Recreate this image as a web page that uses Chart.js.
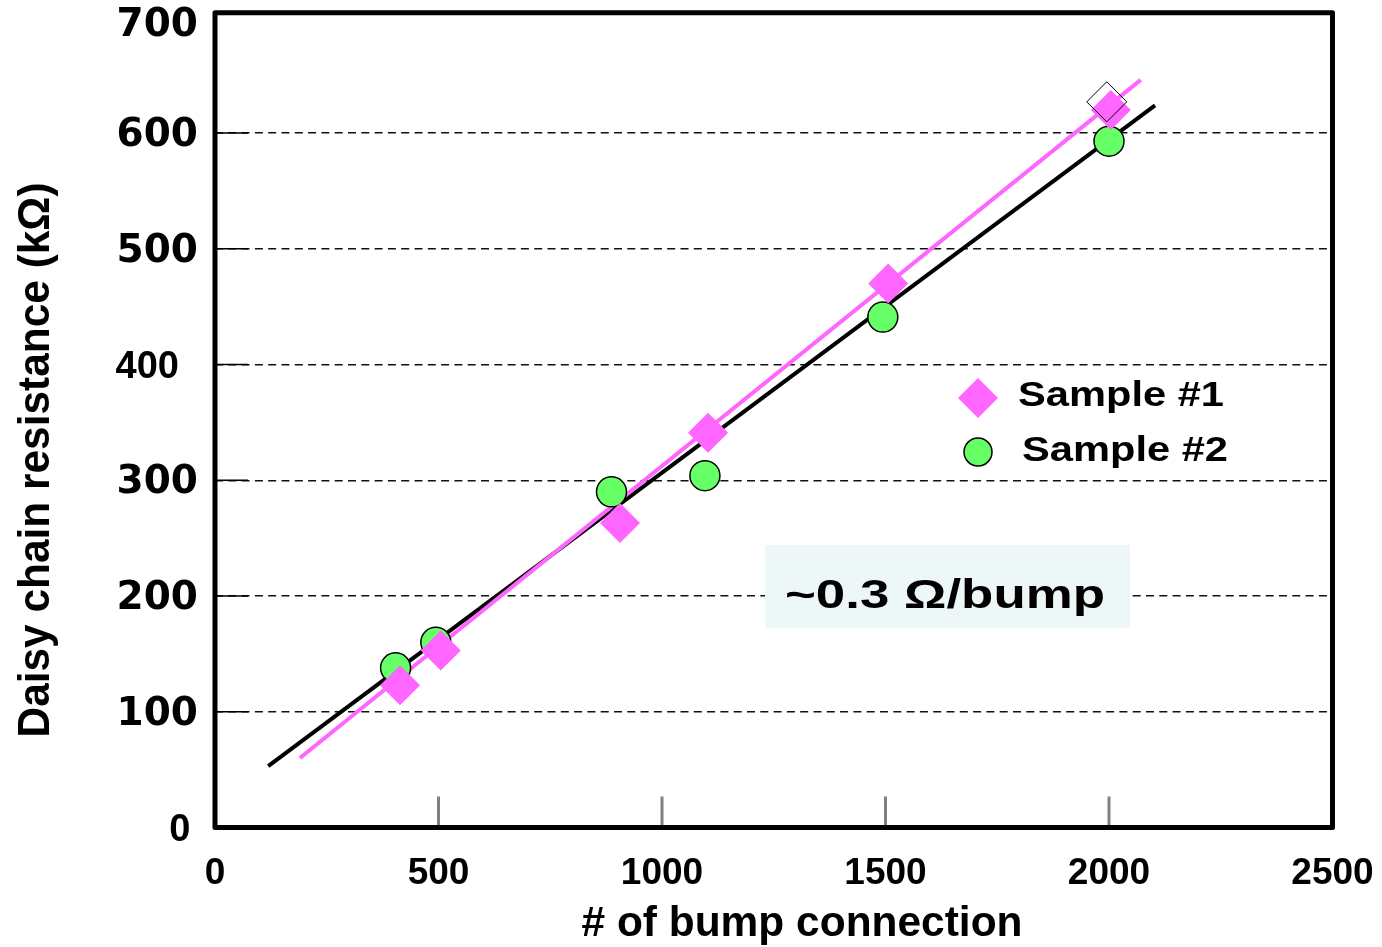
<!DOCTYPE html>
<html>
<head>
<meta charset="utf-8">
<script src="https://cdn.jsdelivr.net/npm/chart.js@4/dist/chart.umd.min.js"></script>
<style>
  html, body { margin: 0; padding: 0; background: #fff; }
  canvas { display: block; }
</style>
</head>
<body>
<canvas id="c" width="1382" height="947"></canvas>
<script>
// Axis ticks
const xTicks = [0, 500, 1000, 1500, 2000, 2500];
const yTicks = [0, 100, 200, 300, 400, 500, 600, 700];

// Measured daisy-chain resistance (kΩ) vs number of bump connections
const bumps1 = [414, 505, 906, 1103, 1506, 2004];
const res1   = [123, 153, 263, 341, 470, 620];
const bumps2 = [404, 494, 887, 1096, 1494, 2000];
const res2   = [138, 160, 290, 304, 441, 593];
// second measurement at 2000 bumps, Sample #1 (outlined)
const bumpsRepeat = [1995];
const resRepeat   = [627];

// Linear fits (end points)
const fit1Bumps = [190, 2071];
const fit1Res   = [60, 646];
const fit2Bumps = [119, 2103];
const fit2Res   = [53, 624];

const seriesNames = ['Sample #1', 'Sample #2'];
const slopeNote = '~0.3 \u03A9/bump';
const xTitle = '# of bump connection';
const yTitle = 'Daisy chain resistance (k\u03A9)';

const PINK = '#ff66ff';
const GREEN = '#66ff66';

const pts = (xs, ys) => xs.map((x, i) => ({ x: x, y: ys[i] }));

// draw text stretched horizontally so that it spans a given width
function stretchedText(ctx, text, x, y, font, width, rotate) {
  ctx.save();
  ctx.font = font;
  const w = ctx.measureText(text).width;
  ctx.translate(x, y);
  if (rotate) ctx.rotate(rotate);
  ctx.scale(width / w, 1);
  ctx.fillText(text, 0, 0);
  ctx.restore();
}

const decor = {
  id: 'decor',
  beforeDatasetsDraw(chart) {
    const { ctx, chartArea: a, scales: { x, y } } = chart;
    ctx.save();
    // box behind the slope note
    ctx.fillStyle = '#eef7f7';
    ctx.fillRect(765, 545, 365, 83);
    // short solid marks where the dashed grid lines meet the y axis
    ctx.strokeStyle = '#000';
    ctx.lineWidth = 1.5;
    yTicks.forEach(v => {
      if (v > 0 && v < 700) {
        const py = y.getPixelForValue(v);
        ctx.beginPath();
        ctx.moveTo(a.left, py);
        ctx.lineTo(a.left + 33, py);
        ctx.stroke();
      }
    });
    // grey inner tick marks on the x axis
    ctx.strokeStyle = '#808080';
    ctx.lineWidth = 3;
    xTicks.forEach(v => {
      if (v > 0 && v < 2500) {
        const px = x.getPixelForValue(v);
        ctx.beginPath();
        ctx.moveTo(px, a.bottom);
        ctx.lineTo(px, a.bottom - 31);
        ctx.stroke();
      }
    });
    ctx.restore();
  },
  afterDraw(chart) {
    const { ctx, chartArea: a } = chart;
    const ds = chart.data.datasets;
    ctx.save();
    // plot frame
    ctx.strokeStyle = '#000';
    ctx.lineWidth = 5;
    ctx.lineJoin = 'round';
    ctx.strokeRect(a.left, a.top, a.right - a.left, a.bottom - a.top);

    // legend
    ctx.fillStyle = ds[0].backgroundColor;
    Chart.helpers.drawPoint(ctx, { pointStyle: 'rectRot', radius: 20, borderWidth: 0 }, 978, 398);
    ctx.fillStyle = ds[1].backgroundColor;
    ctx.strokeStyle = ds[1].borderColor;
    ctx.lineWidth = ds[1].borderWidth;
    Chart.helpers.drawPoint(ctx, { pointStyle: 'circle', radius: 14, borderWidth: 1.5 }, 978, 452);

    ctx.fillStyle = '#000';
    ctx.textAlign = 'left';
    ctx.textBaseline = 'alphabetic';
    stretchedText(ctx, seriesNames[0], 1018, 406, 'bold 35px "Liberation Sans", Arial, sans-serif', 206);
    stretchedText(ctx, seriesNames[1], 1022, 461, 'bold 35px "Liberation Sans", Arial, sans-serif', 206);

    // slope note
    stretchedText(ctx, slopeNote, 785, 608, 'bold 40px "Liberation Sans", Arial, sans-serif', 320);

    // axis titles
    ctx.textAlign = 'center';
    stretchedText(ctx, xTitle, 802, 936, 'bold 42px "Liberation Sans", Arial, sans-serif', 441);
    stretchedText(ctx, yTitle, 49, 460, 'bold 45px "Liberation Sans", Arial, sans-serif', 555, -Math.PI / 2);
    ctx.restore();
  }
};

// y tick fonts: 400 and 0 use a narrower face; the top label sits a little lower
function yTickFont(c) {
  const v = c.tick ? c.tick.value : null;
  if (v === 400 || v === 0) {
    return { family: '"Liberation Sans", Arial, sans-serif', size: 38, weight: 'bold', lineHeight: 0.6 };
  }
  if (v === 700) {
    return { family: '"DejaVu Sans", sans-serif', size: 39, weight: 'bold', lineHeight: '12px' };
  }
  return { family: '"DejaVu Sans", sans-serif', size: 39, weight: 'bold', lineHeight: 0.6 };
}

new Chart(document.getElementById('c'), {
  type: 'scatter',
  data: {
    datasets: [
      {
        label: seriesNames[0],
        data: pts(bumps1, res1),
        pointStyle: 'rectRot',
        pointRadius: 20,
        backgroundColor: PINK,
        borderColor: PINK,
        borderWidth: 0,
        order: 2
      },
      {
        label: seriesNames[1],
        data: pts(bumps2, res2),
        pointStyle: 'circle',
        pointRadius: 15,
        backgroundColor: GREEN,
        borderColor: '#000',
        borderWidth: 1.5,
        order: 3
      },
      {
        label: seriesNames[0] + ' (repeat)',
        data: pts(bumpsRepeat, resRepeat),
        pointStyle: 'rectRot',
        pointRadius: 20,
        backgroundColor: 'rgba(0,0,0,0)',
        borderColor: '#000',
        borderWidth: 1,
        order: 1
      },
      {
        label: 'fit 1',
        data: pts(fit1Bumps, fit1Res),
        showLine: true,
        pointRadius: 0,
        borderColor: PINK,
        borderWidth: 4,
        order: 4
      },
      {
        label: 'fit 2',
        data: pts(fit2Bumps, fit2Res),
        showLine: true,
        pointRadius: 0,
        borderColor: '#000',
        borderWidth: 4,
        order: 5
      }
    ]
  },
  options: {
    responsive: false,
    animation: false,
    devicePixelRatio: 1,
    layout: { autoPadding: false, padding: { left: 0, top: 12.7, right: 49.5, bottom: 0 } },
    plugins: {
      legend: { display: false },
      tooltip: { enabled: false }
    },
    scales: {
      x: {
        type: 'linear',
        min: 0,
        max: 2500,
        afterBuildTicks: s => { s.ticks = xTicks.map(v => ({ value: v })); },
        afterFit: s => { s.height = 119.5; s.paddingLeft = 0; s.paddingRight = 0; },
        ticks: {
          color: '#000',
          padding: 24,
          maxRotation: 0,
          autoSkip: false,
          callback: v => String(v),
          font: { family: '"Liberation Sans", Arial, sans-serif', size: 37, weight: 'bold' }
        },
        grid: { display: false, drawTicks: false },
        border: { display: false }
      },
      y: {
        type: 'linear',
        min: 0,
        max: 704,
        afterBuildTicks: s => { s.ticks = yTicks.map(v => ({ value: v })); },
        afterFit: s => { s.width = 215; s.paddingTop = 0; s.paddingBottom = 0; },
        ticks: {
          color: '#000',
          padding: 17,
          labelOffset: 3,
          autoSkip: false,
          callback: v => v === 700 ? ['', String(v)] : (v === 400 ? v + '\u2002' : (v === 0 ? v + '\u2009' : String(v))),
          font: yTickFont
        },
        grid: {
          drawTicks: false,
          lineWidth: 1.4,
          color: c => (c.tick && (c.tick.value === 0 || c.tick.value === 700)) ? 'rgba(0,0,0,0)' : '#111'
        },
        border: { display: false, dash: [8, 5.3] }
      }
    }
  },
  plugins: [decor]
});
</script>
</body>
</html>
